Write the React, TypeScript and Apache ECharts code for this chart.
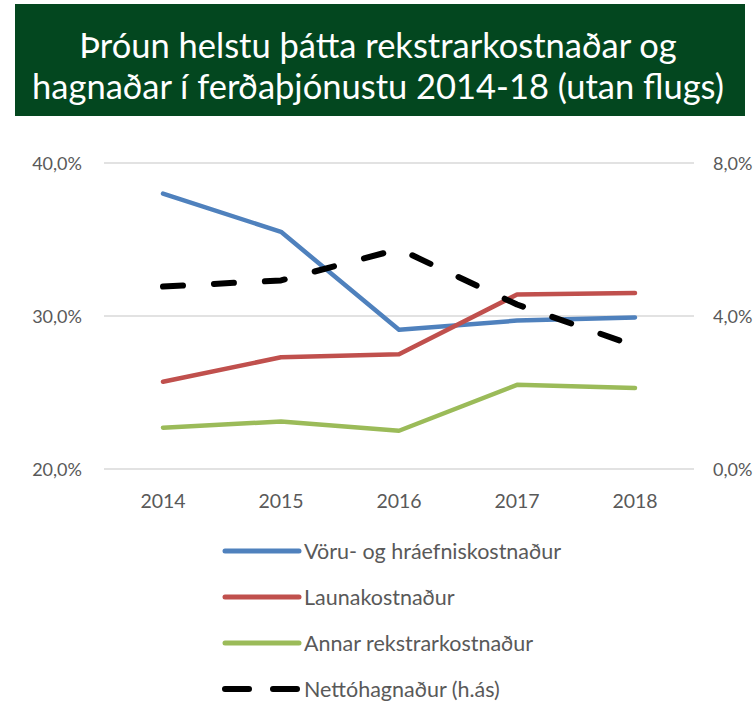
import React, { useEffect, useRef } from "react";
import * as echarts from "echarts";

const years = ["2014", "2015", "2016", "2017", "2018"];
const voru = [38.0, 35.5, 29.1, 29.7, 29.9];
const launa = [25.7, 27.3, 27.5, 31.4, 31.5];
const annar = [22.7, 23.1, 22.5, 25.5, 25.3];
const netto = [4.77, 4.93, 5.75, 4.3, 3.22];
const seriesNames = [
  "Vöru- og hráefniskostnaður",
  "Launakostnaður",
  "Annar rekstrarkostnaður",
  "Nettóhagnaður (h.ás)",
];
const colors = ["#4F81BD", "#C0504D", "#9BBB59", "#000000"];
const titleText = "Þróun helstu þátta rekstrarkostnaðar og\nhagnaðar í ferðaþjónustu 2014-18 (utan flugs)";

const FONT = "Lato, 'Open Sans', sans-serif";
const fmt = (v: number) => v.toFixed(1).replace(".", ",") + "%";
const DASH = [20, 31];

export default function App() {
  const ref = useRef<HTMLDivElement>(null);
  useEffect(() => {
    document.body.style.margin = "0";
    const chart = echarts.init(ref.current!, null, { renderer: "svg" });
    const labelStyle = { color: "#595959", fontSize: 18, fontFamily: FONT };
    const lineSeries = (i: number, data: number[], extra: any = {}) => ({
      name: seriesNames[i],
      type: "line",
      data,
      symbol: "none",
      color: colors[i],
      lineStyle: { width: 4.5, color: colors[i], cap: "round", join: "round" },
      ...extra,
    });
    chart.setOption({
      animation: false,
      backgroundColor: "#ffffff",
      graphic: [
        {
          type: "rect",
          shape: { x: 15, y: 4, width: 730, height: 112 },
          style: { fill: "#03471F" },
          z: 0,
        },
      ],
      title: {
        text: titleText,
        left: "center",
        top: 19,
        textStyle: {
          color: "#ffffff",
          fontSize: 34.5,
          fontWeight: "normal",
          fontFamily: FONT,
          lineHeight: 41,
          align: "center",
        },
      },
      grid: { left: 104, right: 62, top: 163, bottom: 232 },
      xAxis: {
        type: "category",
        data: years,
        boundaryGap: true,
        axisLine: { show: false },
        axisTick: { show: false },
        axisLabel: { ...labelStyle, fontSize: 19.5, margin: 21 },
      },
      yAxis: [
        {
          type: "value",
          min: 20,
          max: 40,
          interval: 10,
          axisLine: { show: false },
          axisTick: { show: false },
          axisLabel: { ...labelStyle, margin: 22, formatter: fmt },
          splitLine: { lineStyle: { color: "#D9D9D9", width: 1.5 } },
        },
        {
          type: "value",
          min: 0,
          max: 8,
          interval: 4,
          axisLine: { show: false },
          axisTick: { show: false },
          axisLabel: { ...labelStyle, margin: 19, formatter: fmt },
          splitLine: { show: false },
        },
      ],
      legend: {
        orient: "vertical",
        left: 222,
        top: 540,
        height: 170,
        padding: 0,
        itemWidth: 74,
        itemHeight: 14,
        itemGap: 24,
        itemStyle: { opacity: 0 },
        textStyle: { color: "#595959", fontSize: 21.5, fontFamily: FONT, lineHeight: 22 },
        data: seriesNames.map((n, i) => ({
          name: n,
          itemStyle: { opacity: 0 },
          lineStyle: {
            width: i === 3 ? 6 : 5,
            color: colors[i],
            cap: "round",
            type: i === 3 ? [24, 24] : "solid",
          },
        })),
      },
      series: [
        lineSeries(0, voru),
        lineSeries(1, launa),
        lineSeries(2, annar),
        lineSeries(3, netto, {
          yAxisIndex: 1,
          lineStyle: { width: 6, color: colors[3], type: DASH, cap: "round" },
        }),
      ],
    });
    return () => chart.dispose();
  }, []);
  return <div ref={ref} style={{ width: 756, height: 701 }} />;
}
